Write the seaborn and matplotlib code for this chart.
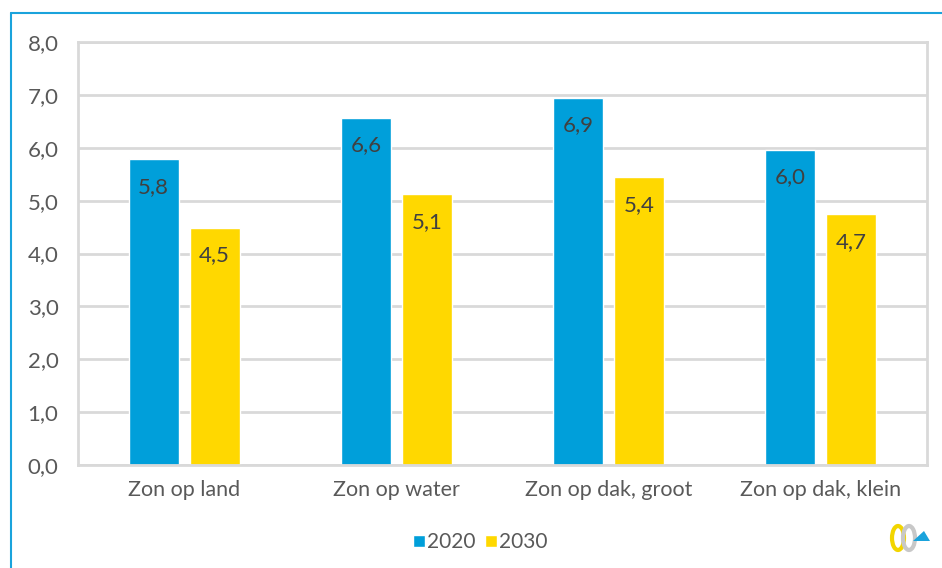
import matplotlib
matplotlib.use("Agg")
import matplotlib.pyplot as plt
import seaborn as sns
import pandas as pd
from matplotlib.lines import Line2D
from matplotlib.patches import Ellipse, Polygon

categories = ["Zon op land", "Zon op water", "Zon op dak, groot", "Zon op dak, klein"]
years = ["2020", "2030"]
values_2020 = [5.78, 6.57, 6.94, 5.96]
values_2030 = [4.49, 5.12, 5.44, 4.74]
y_ticks = [0, 1, 2, 3, 4, 5, 6, 7, 8]

df = pd.DataFrame({
    "cat": categories * 2,
    "year": [years[0]] * 4 + [years[1]] * 4,
    "val": values_2020 + values_2030,
})

sns.set_theme(style="white")
plt.rcParams["font.family"] = ["Lato", "DejaVu Sans"]
text_col = "#595959"
grid_col = "#D9D9D9"
blue = "#009FDA"
yellow = "#FFD800"

fig = plt.figure(figsize=(9.42, 5.68), dpi=100)
ax = fig.add_axes([78/942, 1-465/568, (927-78)/942, (465-42)/568])

sns.barplot(data=df, x="cat", y="val", hue="year", order=categories, hue_order=years,
            palette=[blue, yellow], width=0.575, gap=0.18, ax=ax, saturation=1,
            legend=True, errorbar=None)

ax.set_ylim(0, 8)
ax.set_xlim(-0.5, 3.5)
ax.set_yticks(y_ticks)
ax.set_yticklabels([f"{v:.1f}".replace(".", ",") for v in y_ticks])
ax.set_xlabel("")
ax.set_ylabel("")
ax.tick_params(axis="y", length=0, pad=14, labelsize=16, labelcolor=text_col)
ax.tick_params(axis="x", length=0, pad=11, labelsize=15.5, labelcolor=text_col)
ax.grid(axis="y", color=grid_col, linewidth=2)
ax.set_axisbelow(True)
for s in ax.spines.values():
    s.set_visible(True)
    s.set_color(grid_col)
    s.set_linewidth(2)

for cont in ax.containers:
    labels = [f"{b.get_height():.1f}".replace(".", ",") for b in cont]
    ax.bar_label(cont, labels=labels, padding=-27, fontsize=16, color="#404040")

leg = ax.legend(loc="upper center", bbox_to_anchor=(0.474, -0.115), ncol=2, frameon=False,
                fontsize=15, handlelength=0.55, handleheight=0.55, handletextpad=0.12,
                columnspacing=0.45, labelcolor=text_col)

# outer frame
fig.add_artist(Line2D([11/942, 11/942], [0, 1-13/568], transform=fig.transFigure,
                      color="#1AA3DC", linewidth=1.5))
fig.add_artist(Line2D([11/942, 1], [1-13/568, 1-13/568], transform=fig.transFigure,
                      color="#1AA3DC", linewidth=1.5))

# small decorative logo (approximation)
fig.add_artist(Ellipse((898/942, 1-538/568), 12/942, 24/568, transform=fig.transFigure,
                       fill=False, edgecolor="#F2D500", linewidth=3))
fig.add_artist(Ellipse((909/942, 1-538/568), 12/942, 24/568, transform=fig.transFigure,
                       fill=False, edgecolor="#C8C8C8", linewidth=3))
fig.add_artist(Polygon([(913/942, 1-541/568), (930/942, 1-541/568), (924/942, 1-531/568)],
                       closed=True, transform=fig.transFigure, facecolor="#1AA3DC",
                       edgecolor="none"))

fig.savefig("out.png", dpi=100)
